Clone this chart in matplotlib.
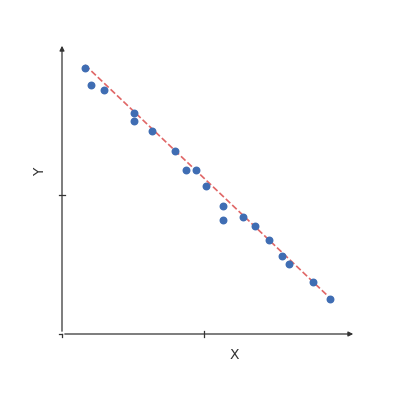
import matplotlib
matplotlib.use("Agg")
import matplotlib.pyplot as plt

x_vals = [23, 29, 42, 72, 72, 90, 113, 124, 134, 144, 161, 161, 181, 193, 207, 220, 227, 251, 268]
y_vals = [266, 249, 244, 221, 213, 203, 183, 164, 164, 148, 128, 114, 117, 108, 94, 78, 70, 52, 35]
fit_x = [23, 268]
fit_y = [269, 36]

fig = plt.figure(figsize=(4, 4), dpi=100)
ax = fig.add_axes([0, 0, 1, 1])
ax.set_xlim(-62, 338)
ax.set_ylim(-66, 334)
ax.axis("off")

ax.annotate("", xy=(294, 0), xytext=(0, 0),
            arrowprops=dict(arrowstyle="-|>", color="#333333", lw=0.9, mutation_scale=7))
ax.annotate("", xy=(0, 291), xytext=(0, 0),
            arrowprops=dict(arrowstyle="-|>", color="#333333", lw=0.9, mutation_scale=7))
ax.plot([142, 142], [-3, 3], color="#333333", lw=0.9)
ax.plot([-3, 3], [139, 139], color="#333333", lw=0.9)
ax.plot([0, 0], [-3, 0], color="#333333", lw=0.9)
ax.plot([-3, 0], [0, 0], color="#333333", lw=0.9)

ax.plot(fit_x, fit_y, "--", color="#e06666", lw=1.2)
ax.scatter(x_vals, y_vals, s=22, color="#3f6db3", zorder=3)

ax.text(172, -21, "X", ha="center", va="center", fontsize=10, color="#333333")
ax.text(-22, 162, "Y", ha="center", va="center", fontsize=10, color="#333333", rotation=90)

fig.savefig("out.png", dpi=100)
